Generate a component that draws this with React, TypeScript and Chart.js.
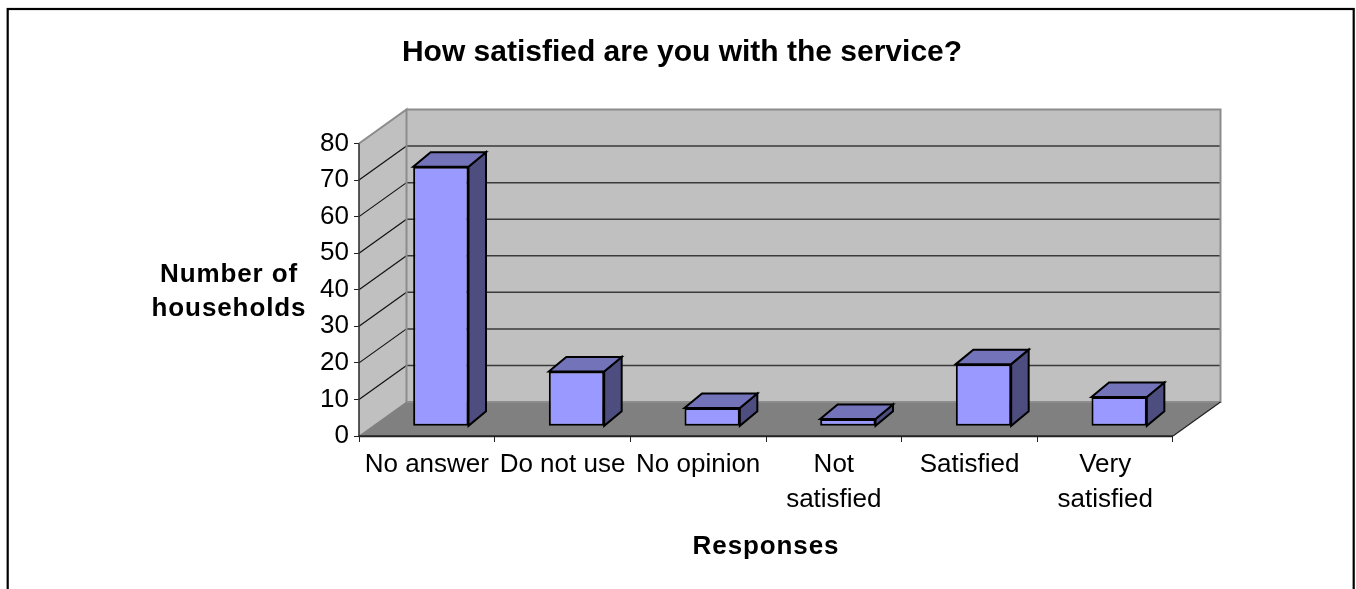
import React, { useEffect, useRef } from "react";
import { Chart, registerables } from "chart.js";

Chart.register(...registerables);

const categories = ["No answer", "Do not use", "No opinion", ["Not", "satisfied"], "Satisfied", ["Very", "satisfied"]];
const households = [71, 15, 5, 2, 17, 8];
const chartTitle = "How satisfied are you with the service?";
const yAxisTitle = ["Number of", "households"];
const xAxisTitle = "Responses";

const FONT = "'Liberation Sans', Arial, sans-serif";
const WALL = { dx: 47.5, dy: -34 };
const BAR_SHIFT = { dx: 14, dy: -9.7 };
const BAR_DEPTH = { dx: 17.5, dy: -14.5 };

const poly = (ctx: CanvasRenderingContext2D, pts: number[][], fill: string | null, stroke: string | null, lw = 1) => {
  ctx.beginPath();
  pts.forEach((p, i) => (i ? ctx.lineTo(p[0], p[1]) : ctx.moveTo(p[0], p[1])));
  ctx.closePath();
  if (fill) {
    ctx.fillStyle = fill;
    ctx.fill();
  }
  if (stroke) {
    ctx.strokeStyle = stroke;
    ctx.lineWidth = lw;
    ctx.lineJoin = "miter";
    ctx.stroke();
  }
};

const line = (ctx: CanvasRenderingContext2D, x1: number, y1: number, x2: number, y2: number, c: string, lw: number) => {
  ctx.beginPath();
  ctx.moveTo(x1, y1);
  ctx.lineTo(x2, y2);
  ctx.strokeStyle = c;
  ctx.lineWidth = lw;
  ctx.stroke();
};

const scene3d = {
  id: "scene3d",
  beforeDraw(chart: any) {
    const ctx = chart.ctx as CanvasRenderingContext2D;
    ctx.save();
    ctx.fillStyle = "#fff";
    ctx.fillRect(0, 0, chart.width, chart.height);
    ctx.strokeStyle = "#000";
    ctx.lineWidth = 2.2;
    ctx.strokeRect(7.7, 9, 1346, 700);
    ctx.restore();
  },
  beforeDatasetsDraw(chart: any) {
    const ctx = chart.ctx as CanvasRenderingContext2D;
    const { left: l, right: r, top: t, bottom: b } = chart.chartArea;
    const { dx, dy } = WALL;
    ctx.save();
    poly(ctx, [[l, b], [l, t], [l + dx, t + dy], [l + dx, b + dy]], "#c0c0c0", null);
    poly(ctx, [[l + dx, t + dy], [r + dx, t + dy], [r + dx, b + dy], [l + dx, b + dy]], "#c0c0c0", null);
    poly(ctx, [[l, b], [r, b], [r + dx, b + dy], [l + dx, b + dy]], "#808080", null);
    const yScale = chart.scales.y;
    yScale.ticks.forEach((tick: any) => {
      const y = yScale.getPixelForValue(tick.value);
      if (tick.value > 0 && tick.value < 80) {
        line(ctx, l + dx, y + dy, r + dx, y + dy, "#3a3a3a", 1.5);
        line(ctx, l, y, l + dx, y + dy, "#111", 1.2);
      }
    });
    poly(ctx, [[l, t], [l + dx, t + dy], [r + dx, t + dy], [r + dx, b + dy], [l + dx, b + dy], [l + dx, t + dy]], null, "#8c8c8c", 2);
    line(ctx, l + dx, b + dy, l, b, "#808080", 1);
    line(ctx, r + dx, b + dy, r, b, "#222", 1.2);
    line(ctx, l, t, l, b, "#333", 1.6);
    line(ctx, l - 0.5, b + 0.2, r, b + 0.2, "#222", 2);

    const bars = chart.getDatasetMeta(0).data;
    const s = BAR_SHIFT;
    const d = BAR_DEPTH;
    bars.forEach((bar: any) => {
      const x1 = bar.x - bar.width / 2 + s.dx;
      const x2 = bar.x + bar.width / 2 + s.dx;
      const yt = bar.y + s.dy;
      const yb = bar.base + s.dy;
      poly(ctx, [[x2, yt], [x2 + d.dx, yt + d.dy], [x2 + d.dx, yb + d.dy], [x2, yb]], "#4d4d80", "#000", 2);
      poly(ctx, [[x1, yt], [x1 + d.dx, yt + d.dy], [x2 + d.dx, yt + d.dy], [x2, yt]], "#7373ba", "#000", 2);
    });
    ctx.restore();
    ctx.save();
    ctx.translate(s.dx, s.dy);
  },
  afterDatasetsDraw(chart: any) {
    const ctx = chart.ctx as CanvasRenderingContext2D;
    const { left: l, right: r } = chart.chartArea;
    ctx.restore();
    ctx.save();
    ctx.fillStyle = "#000";
    ctx.font = `bold 26px ${FONT}`;
    ctx.textAlign = "center";
    ctx.textBaseline = "middle";
    (ctx as any).letterSpacing = "0.9px";
    ctx.fillText(yAxisTitle[0], 229, 275);
    ctx.fillText(yAxisTitle[1], 229, 309);
    ctx.fillText(xAxisTitle, (l + r) / 2, 547);
    ctx.restore();
  },
};

export default function App() {
  const ref = useRef<HTMLCanvasElement>(null);
  useEffect(() => {
    const chart = new Chart(ref.current as HTMLCanvasElement, {
      type: "bar",
      data: {
        labels: categories as any,
        datasets: [
          {
            data: households,
            backgroundColor: "#9999ff",
            borderColor: "#000",
            borderWidth: 2,
            borderSkipped: false,
            categoryPercentage: 1,
            barPercentage: 0.408,
            clip: false as any,
          },
        ],
      },
      options: {
        responsive: false,
        animation: false,
        devicePixelRatio: 1,
        layout: { padding: { left: 191, right: 183, top: 0, bottom: 23 } },
        plugins: {
          legend: { display: false },
          tooltip: { enabled: false },
          title: {
            display: true,
            text: chartTitle,
            color: "#000",
            font: { family: FONT, size: 30, weight: "bold", lineHeight: 1.2 },
            padding: { top: 34.5, bottom: 73 },
          },
        },
        scales: {
          x: {
            afterFit: (s: any) => {
              s.height = 130;
            },
            grid: { drawOnChartArea: false, drawTicks: true, tickLength: 6, color: "#222" },
            border: { display: false },
            ticks: {
              autoSkip: false,
              maxRotation: 0,
              minRotation: 0,
              color: "#000",
              padding: 6,
              font: { family: FONT, size: 26, lineHeight: 1.33 },
            },
          },
          y: {
            min: 0,
            max: 80,
            afterFit: (s: any) => {
              s.width = 168;
            },
            grid: { drawOnChartArea: false, drawTicks: true, tickLength: 5, color: "#222" },
            border: { display: false },
            ticks: {
              stepSize: 10,
              color: "#000",
              padding: 5,
              font: { family: FONT, size: 26 },
            },
          },
        },
      },
      plugins: [scene3d],
    } as any);
    return () => chart.destroy();
  }, []);
  return (
    <canvas
      ref={ref}
      width={1356}
      height={589}
      style={{ position: "fixed", left: 0, top: 0, width: 1356, height: 589, display: "block" }}
    />
  );
}
